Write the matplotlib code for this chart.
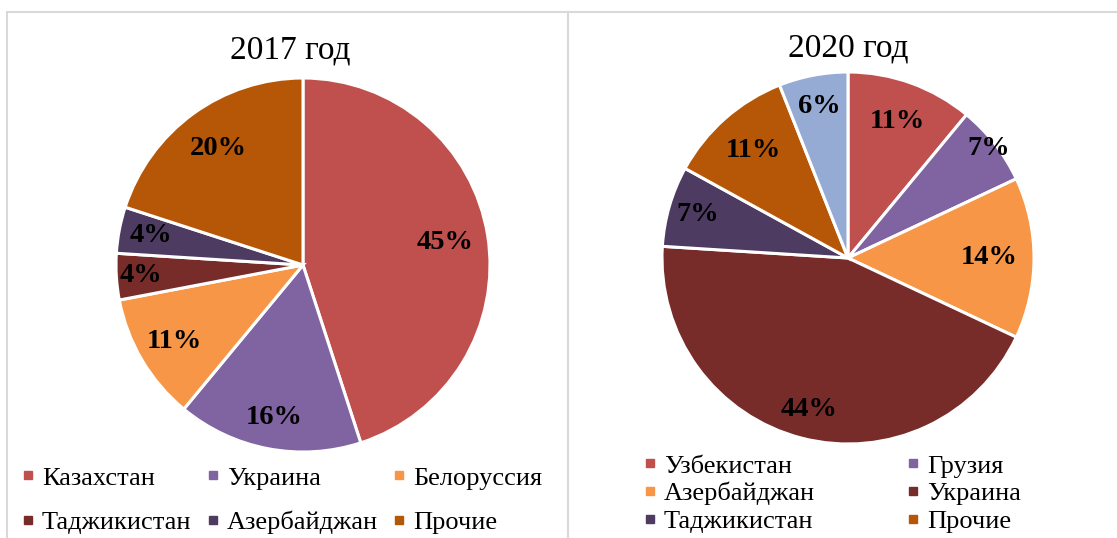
import matplotlib
matplotlib.use("Agg")
import matplotlib.pyplot as plt
from matplotlib.patches import Rectangle
from matplotlib.lines import Line2D
import numpy as np

plt.rcParams['font.family'] = ['Liberation Serif', 'DejaVu Serif']

# Данные 2017
names_2017 = ["Казахстан", "Украина", "Белоруссия", "Таджикистан", "Азербайджан", "Прочие"]
shares_2017 = [45, 16, 11, 4, 4, 20]
colors_2017 = ["#C0504D", "#8064A2", "#F79646", "#772C2A", "#4D3B62", "#B65708"]

# Данные 2020 (последний сектор в легенду не попал)
names_2020 = ["Узбекистан", "Грузия", "Азербайджан", "Украина", "Таджикистан", "Прочие", ""]
shares_2020 = [11, 7, 14, 44, 7, 11, 6]
colors_2020 = ["#C0504D", "#8064A2", "#F79646", "#772C2A", "#4D3B62", "#B65708", "#95ABD3"]

W, H = 1117, 538


def draw_pie(ax, values, colors, label_dist):
    wedges, _ = ax.pie(values, colors=colors, startangle=90, counterclock=False,
                       radius=1, wedgeprops=dict(edgecolor="white", linewidth=2.2))
    for w, v, d in zip(wedges, values, label_dist):
        ang = np.deg2rad((w.theta1 + w.theta2) / 2)
        ax.text(d * np.cos(ang), d * np.sin(ang), f"{v}%", ha="center", va="center",
                fontsize=20.5, fontweight="bold", color="black")
    ax.set_xlim(-1, 1)
    ax.set_ylim(-1, 1)
    ax.set_aspect("equal")
    ax.axis("off")
    return wedges


def legend_handles(names, colors, order):
    handles = []
    for i in order:
        handles.append(Line2D([], [], marker="s", linestyle="", color=colors[i],
                              markersize=6, label=names[i]))
    return handles


fig = plt.figure(figsize=(W / 100, H / 100), dpi=100)

# рамки панелей
fig.add_artist(Rectangle((7 / W, -0.1), (568 - 7) / W, (538 - 12) / H + 0.1,
                         transform=fig.transFigure, fill=False, edgecolor="#D9D9D9", linewidth=1.5))
fig.add_artist(Rectangle((568 / W, -0.1), 1.0, (538 - 12) / H + 0.1,
                         transform=fig.transFigure, fill=False, edgecolor="#D9D9D9", linewidth=1.5))

# 2017
r1 = 187
ax1 = fig.add_axes([(303 - r1) / W, (H - 265 - r1) / H, 2 * r1 / W, 2 * r1 / H])
draw_pie(ax1, shares_2017, colors_2017, [0.77, 0.83, 0.8, 0.87, 0.83, 0.77])
fig.text(290 / W, 1 - 50 / H, "2017 год", ha="center", va="center", fontsize=24)
fig.legend(handles=legend_handles(names_2017, colors_2017, [0, 3, 1, 4, 2, 5]),
           loc="center left", bbox_to_anchor=(20.1 / W, 1 - 500 / H), ncol=3, frameon=False,
           fontsize=19, handlelength=0.6, handletextpad=0.23, columnspacing=0.5,
           labelspacing=0.78, borderpad=0, borderaxespad=0)

# 2020
r2 = 186
ax2 = fig.add_axes([(848 - r2) / W, (H - 258 - r2) / H, 2 * r2 / W, 2 * r2 / H])
draw_pie(ax2, shares_2020, colors_2020, [0.78, 0.96, 0.76, 0.84, 0.84, 0.77, 0.83])
fig.text(848 / W, 1 - 48 / H, "2020 год", ha="center", va="center", fontsize=24)
fig.legend(handles=legend_handles(names_2020, colors_2020, [0, 2, 4, 1, 3, 5]),
           loc="center left", bbox_to_anchor=(642.1 / W, 1 - 493.5 / H), ncol=2, frameon=False,
           fontsize=19, handlelength=0.6, handletextpad=0.23, columnspacing=3.4,
           labelspacing=0.16, borderpad=0, borderaxespad=0)

fig.savefig("out.png", dpi=100)
